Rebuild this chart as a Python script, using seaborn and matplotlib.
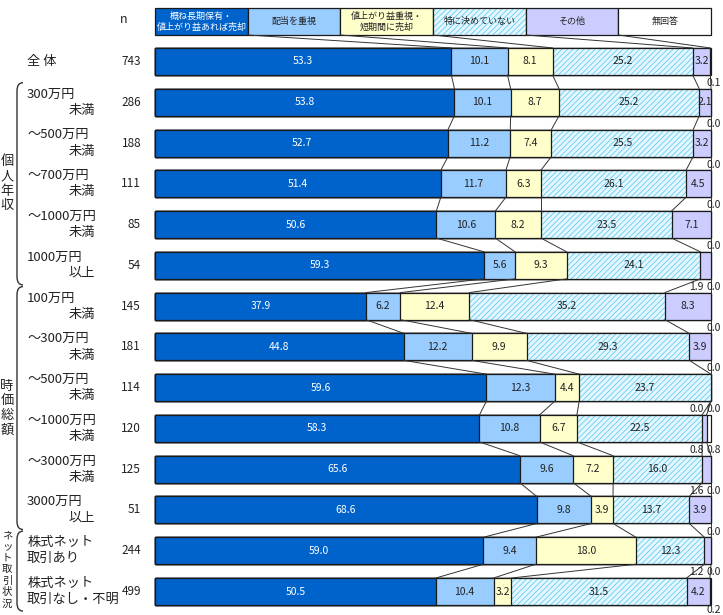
import numpy as np
import pandas as pd
import matplotlib
matplotlib.use("Agg")
import matplotlib.pyplot as plt
import seaborn as sns
from matplotlib.patches import Rectangle, PathPatch
from matplotlib.path import Path

# ---------------- data ----------------
series_names = ["概ね長期保有・\n値上がり益あれば売却", "配当を重視", "値上がり益重視・\n短期間に売却",
                "特に決めていない", "その他", "無回答"]
row_line1 = ["全 体", "300万円", "～500万円", "～700万円", "～1000万円", "1000万円",
             "100万円", "～300万円", "～500万円", "～1000万円", "～3000万円", "3000万円",
             "株式ネット", "株式ネット"]
row_line2 = ["", "未満", "未満", "未満", "未満", "以上",
             "未満", "未満", "未満", "未満", "未満", "以上",
             "取引あり", "取引なし・不明"]
n_values = [743, 286, 188, 111, 85, 54, 145, 181, 114, 120, 125, 51, 244, 499]
long_hold = [53.3, 53.8, 52.7, 51.4, 50.6, 59.3, 37.9, 44.8, 59.6, 58.3, 65.6, 68.6, 59.0, 50.5]
dividend = [10.1, 10.1, 11.2, 11.7, 10.6, 5.6, 6.2, 12.2, 12.3, 10.8, 9.6, 9.8, 9.4, 10.4]
short_term = [8.1, 8.7, 7.4, 6.3, 8.2, 9.3, 12.4, 9.9, 4.4, 6.7, 7.2, 3.9, 18.0, 3.2]
undecided = [25.2, 25.2, 25.5, 26.1, 23.5, 24.1, 35.2, 29.3, 23.7, 22.5, 16.0, 13.7, 12.3, 31.5]
other = [3.2, 2.1, 3.2, 4.5, 7.1, 1.9, 8.3, 3.9, 0.0, 0.8, 1.6, 3.9, 1.2, 4.2]
no_answer = [0.1, 0.0, 0.0, 0.0, 0.0, 0.0, 0.0, 0.0, 0.0, 0.8, 0.0, 0.0, 0.0, 0.2]
group_names = ["個人年収", "時価総額", "ネット取引状況"]
group_rows = [(1, 5), (6, 11), (12, 13)]

# ---------------- style ----------------
sns.set_style("white")
plt.rcParams["font.family"] = ["Noto Sans CJK JP", "DejaVu Sans"]
plt.rcParams["hatch.linewidth"] = 0.5

colors = ["#0063CC", "#99CCFF", "#FFFFCC", "#E4F6FF", "#CCCCFF", "#FFFFFF"]
hatch_color = "#4CC8EE"
text_colors = ["white", "#222222", "#222222", "#222222", "#222222", "#222222"]
edge = "#1a1a1a"

vals = np.array([long_hold, dividend, short_term, undecided, other, no_answer])
totals = vals.sum(axis=0)
norm = vals / totals * 100
cum = np.cumsum(norm, axis=0)
nrows = vals.shape[1]
keys = [f"r{i}" for i in range(nrows)]
h = 0.662

fig = plt.figure(figsize=(7.23, 6.15), dpi=100)
ax = fig.add_axes([0, 0, 1, 1])

for k in reversed(range(6)):
    df = pd.DataFrame({"key": keys, "cum": cum[k]})
    n0 = len(ax.patches)
    sns.barplot(data=df, x="cum", y="key", orient="h", color=colors[k], saturation=1,
                edgecolor=edge, linewidth=0.9, width=h, errorbar=None, ax=ax)
    new = ax.patches[n0:]
    if k == 3:
        for p in new:
            p.set_hatch("//////")
            p.set_edgecolor(hatch_color)
            p.set_linewidth(0)
            ax.add_patch(Rectangle(p.get_xy(), p.get_width(), p.get_height(),
                                   fill=False, edgecolor=edge, linewidth=0.9))

# series lines between bars
for i in range(nrows - 1):
    for k in range(5):
        ax.plot([cum[k][i], cum[k][i + 1]], [i + h / 2, i + 1 - h / 2],
                color="#333333", lw=0.7, zorder=1)

# value labels
for i in range(nrows):
    dy = 0.53 if i < nrows - 1 else 0.45
    for k in range(6):
        v = vals[k][i]
        if k < 5 and v >= 2.0:
            xc = cum[k][i] - norm[k][i] / 2
            ax.text(xc, i, f"{v:.1f}", ha="center", va="center", fontsize=7.5,
                    color=text_colors[k])
        elif k == 4:
            ax.text(97.4, i + dy, f"{v:.1f}", ha="center", va="center", fontsize=7.5,
                    color="#222222")
        elif k == 5:
            ax.text(100.5, i + dy, f"{v:.1f}", ha="center", va="center", fontsize=7.5,
                    color="#222222")

# legend row (drawn as a header bar)
leg_top, leg_h = -1.312, 0.662
for k in range(6):
    x0 = k * 100 / 6
    if k == 3:
        ax.add_patch(Rectangle((x0, leg_top), 100 / 6, leg_h, facecolor=colors[k],
                               hatch="//////", edgecolor=hatch_color, linewidth=0))
        ax.add_patch(Rectangle((x0, leg_top), 100 / 6, leg_h, fill=False,
                               edgecolor=edge, linewidth=0.9))
    else:
        ax.add_patch(Rectangle((x0, leg_top), 100 / 6, leg_h, facecolor=colors[k],
                               edgecolor=edge, linewidth=0.9))
    ax.text(x0 + 100 / 12, leg_top + leg_h / 2, series_names[k], ha="center", va="center",
            fontsize=6.5, color=text_colors[k], linespacing=1.25)
for k in range(1, 6):
    ax.plot([k * 100 / 6, cum[k - 1][0]], [leg_top + leg_h, -h / 2], color="#333333",
            lw=0.7, zorder=1)

# n header and left labels
ax.text(-5.6, -1.04, "n", ha="center", va="center", fontsize=9, color="#222222")
for i in range(nrows):
    ax.text(-2.5, i, str(n_values[i]), ha="right", va="center", fontsize=8.5,
            color="#222222")
    if row_line2[i] == "":
        ax.text(-23.0, i, row_line1[i], ha="left", va="center", fontsize=9.5,
                color="#222222")
    else:
        ax.text(-23.0, i - 0.2, row_line1[i], ha="left", va="center", fontsize=9.5,
                color="#222222")
        x2 = -15.6 if i < 12 else -23.0
        ax.text(x2, i + 0.2, row_line2[i], ha="left", va="center", fontsize=9.5,
                color="#222222")

# group brackets and vertical labels
def px_x(px):
    return (px - 155) / 5.56

def bracket(y0, y1):
    xa, xb = px_x(17), px_x(23)
    c = 0.2
    verts = [(xb, y0), (xa, y0), (xa, y0 + c), (xa, y1 - c), (xa, y1), (xb, y1)]
    codes = [Path.MOVETO, Path.CURVE3, Path.CURVE3, Path.LINETO, Path.CURVE3, Path.CURVE3]
    ax.add_patch(PathPatch(Path(verts, codes), fill=False, edgecolor="#333333", lw=1.0))

for gi, (r0, r1) in enumerate(group_rows):
    y0 = r0 - 0.48
    y1 = r1 + 0.48
    bracket(y0, y1)
    name = group_names[gi]
    if gi < 2:
        fs, step = 9.5, 0.36
        ym = (y0 + y1) / 2
        ys = ym - step * (len(name) - 1) / 2
    else:
        fs, step = 7.5, 0.28
        ys = y0 + 0.1
    for j, ch in enumerate(name):
        ax.text(px_x(7), ys + j * step, ch, ha="center", va="center", fontsize=fs,
                color="#222222")

ax.set_xlim(-155 / 5.56, (723 - 155) / 5.56)
ax.set_ylim(13.576, -1.508)
ax.set_axis_off()

fig.savefig("out.png", dpi=100)
